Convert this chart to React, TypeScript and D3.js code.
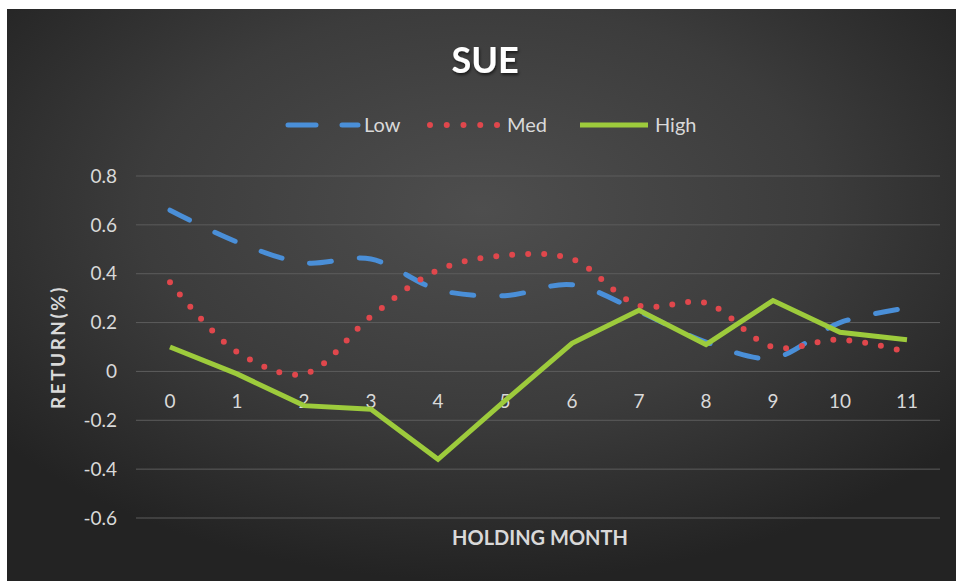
import React from "react";
import * as d3 from "d3";

const months = ["0", "1", "2", "3", "4", "5", "6", "7", "8", "9", "10", "11"];
const lowValues = [0.66, 0.53, 0.445, 0.46, 0.335, 0.31, 0.355, 0.245, 0.12, 0.055, 0.2, 0.26];
const medValues = [0.365, 0.08, -0.01, 0.225, 0.415, 0.475, 0.46, 0.27, 0.28, 0.1, 0.13, 0.08];
const highValues = [0.1, -0.01, -0.14, -0.155, -0.36, -0.12, 0.115, 0.25, 0.11, 0.29, 0.16, 0.13];
const yTicks = [-0.6, -0.4, -0.2, 0, 0.2, 0.4, 0.6, 0.8];

const W = 956;
const H = 581;
const font = "Lato, 'Open Sans', sans-serif";
const textColor = "#d9d9d9";

const App = () => {
  const x = d3.scalePoint().domain(months).range([170, 907]);
  const y = d3.scaleLinear().domain([-0.6, 0.8]).range([518, 176]);

  const smooth = d3
    .line<number>()
    .x((d, i) => x(months[i]) as number)
    .y((d) => y(d))
    .curve(d3.curveCatmullRom.alpha(0.5));
  const straight = d3
    .line<number>()
    .x((d, i) => x(months[i]) as number)
    .y((d) => y(d));

  // excel style labels: plain hyphen, no trailing zeros on 0
  const fmt = (v: number) => (v === 0 ? "0" : v.toFixed(1));

  return (
    <svg
      width={W}
      height={H}
      style={{ position: "absolute", left: 0, top: 0 }}
    >
      <defs>
        <radialGradient id="bg" cx="50%" cy="35%" r="65%">
          <stop offset="0%" stopColor="#4e4e4e" />
          <stop offset="55%" stopColor="#3c3c3c" />
          <stop offset="100%" stopColor="#232323" />
        </radialGradient>
        <filter id="shadow" x="-20%" y="-20%" width="140%" height="140%">
          <feDropShadow dx="1" dy="2" stdDeviation="1.5" floodColor="#000" floodOpacity="0.6" />
        </filter>
      </defs>
      <rect x={0} y={0} width={W} height={H} fill="#fff" />
      <rect x={7} y={9} width={W - 7} height={H - 9} fill="url(#bg)" />

      {/* grid */}
      {yTicks.map((t) => (
        <g key={t}>
          <line x1={136} x2={940} y1={y(t)} y2={y(t)} stroke="#5c5c5c" strokeWidth={1} />
          <text
            x={117}
            y={y(t)}
            dy="0.35em"
            textAnchor="end"
            fill={textColor}
            fontFamily={font}
            fontSize={19}
          >
            {fmt(t)}
          </text>
        </g>
      ))}

      {/* x labels */}
      {months.map((m) => (
        <text
          key={m}
          x={x(m)}
          y={y(0) + 30}
          dy="0.35em"
          textAnchor="middle"
          fill={textColor}
          fontFamily={font}
          fontSize={19}
        >
          {m}
        </text>
      ))}

      {/* series */}
      <path
        d={smooth(lowValues) || ""}
        fill="none"
        stroke="#4a8fd8"
        strokeWidth={5}
        strokeLinecap="round"
        strokeDasharray="22 28"
      />
      <path
        d={smooth(medValues) || ""}
        fill="none"
        stroke="#e0474c"
        strokeWidth={6}
        strokeLinecap="round"
        strokeDasharray="0 16"
      />
      <path
        d={straight(highValues) || ""}
        fill="none"
        stroke="#9dcb3c"
        strokeWidth={5}
        strokeLinejoin="miter"
      />

      {/* title */}
      <text
        x={485}
        y={60}
        dy="0.35em"
        textAnchor="middle"
        fill="#fff"
        fontFamily={font}
        fontWeight="bold"
        fontSize={36}
        filter="url(#shadow)"
      >
        SUE
      </text>

      {/* legend */}
      <g fontFamily={font} fontSize={20} fill={textColor}>
        <line x1={288} x2={358} y1={125} y2={125} stroke="#4a8fd8" strokeWidth={5} strokeLinecap="round" strokeDasharray="28 26" />
        <text x={364} y={125} dy="0.35em">Low</text>
        <line x1={430} x2={498} y1={125} y2={125} stroke="#e0474c" strokeWidth={6} strokeLinecap="round" strokeDasharray="0 16.75" />
        <text x={507} y={125} dy="0.35em">Med</text>
        <line x1={580} x2={648} y1={125} y2={125} stroke="#9dcb3c" strokeWidth={5} />
        <text x={655} y={125} dy="0.35em">High</text>
      </g>

      {/* axis titles */}
      <text
        transform={`translate(58,${(y(0.8) + y(-0.6)) / 2}) rotate(-90)`}
        textAnchor="middle"
        dy="0.35em"
        fill={textColor}
        fontFamily={font}
        fontWeight="bold"
        fontSize={19}
        letterSpacing={2.5}
      >
        RETURN(%)
      </text>
      <text
        x={540}
        y={538}
        dy="0.35em"
        textAnchor="middle"
        fill={textColor}
        fontFamily={font}
        fontWeight="bold"
        fontSize={20}
      >
        HOLDING MONTH
      </text>
    </svg>
  );
};

export default App;
